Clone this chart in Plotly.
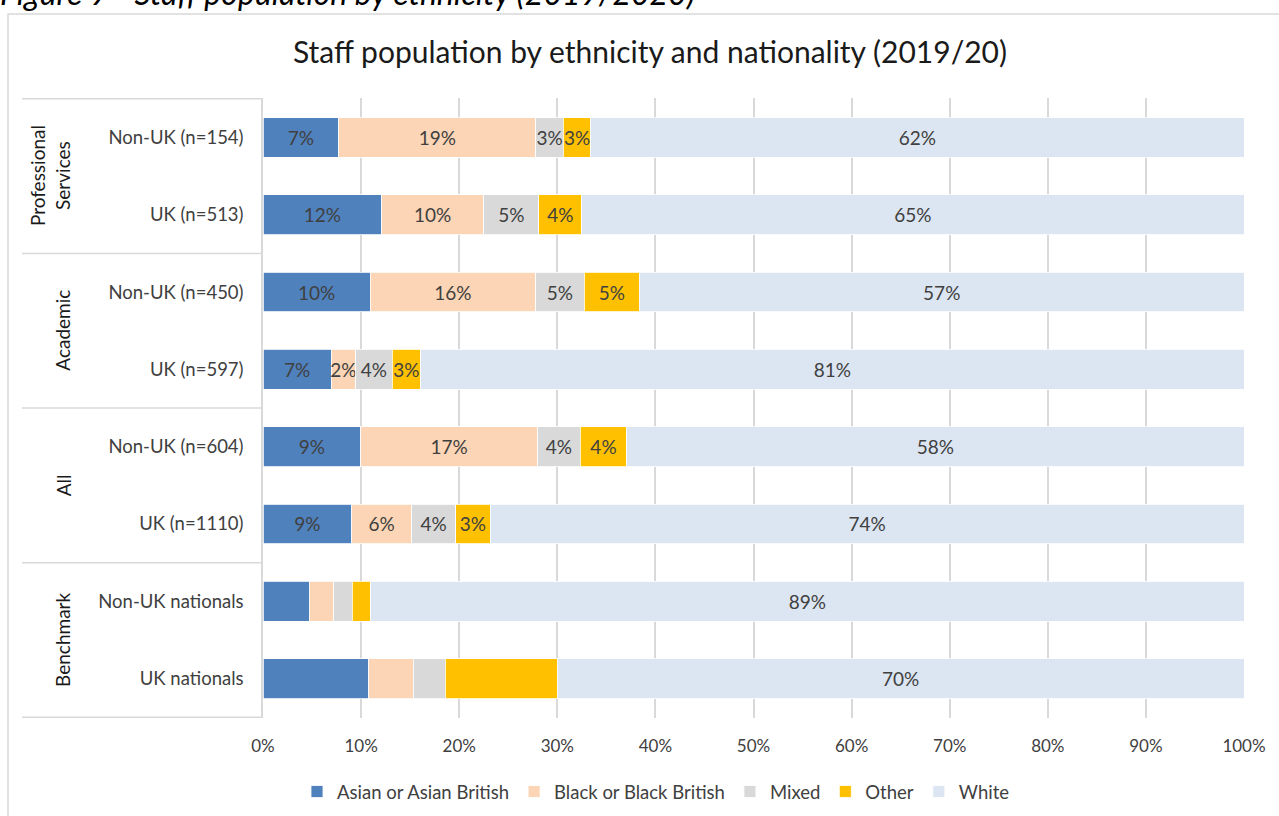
import plotly.graph_objects as go

# Row categories, top to bottom
rows = ["Non-UK (n=154)", "UK (n=513)", "Non-UK (n=450)", "UK (n=597)",
        "Non-UK (n=604)", "UK (n=1110)", "Non-UK nationals", "UK nationals"]
groups = ["Professional<br>Services", "Academic", "All", "Benchmark"]
group_rows = [(0, 1), (2, 3), (4, 5), (6, 7)]

# Shares by ethnicity (%), per row; each row is normalised to 100%
asian = [7.2, 11.6, 10.1, 6.7, 9.2, 8.7, 4.7, 10.8]
black = [18.7, 10.0, 15.6, 2.4, 16.6, 5.9, 2.5, 4.5]
mixed = [2.6, 5.4, 4.6, 3.6, 4.0, 4.3, 1.9, 3.3]
other = [2.6, 4.2, 5.2, 2.8, 4.4, 3.4, 1.9, 11.4]
white = [62.0, 64.8, 57.0, 81.0, 58.0, 74.0, 89.0, 70.0]

# Benchmark rows only carry a label on the White segment
labelled = [True, True, True, True, True, True, False, False]

series = [
    ("Asian or Asian British", asian, "#4f81bd", False),
    ("Black or Black British", black, "#fbd5b5", False),
    ("Mixed", mixed, "#d9d9d9", False),
    ("Other", other, "#ffc000", False),
    ("White", white, "#dce6f2", True),
]

FONT = "Lato"
TXT = "#404040"
GRID = "#d9d9d9"

fig = go.Figure()
for name, vals, color, always in series:
    text = [f"{v:.0f}%" if (always or lab) else "" for v, lab in zip(vals, labelled)]
    fig.add_trace(go.Bar(
        name=name, y=rows, x=vals, orientation="h",
        marker=dict(color=color, line=dict(color="white", width=0.8)),
        text=text, textposition="inside", insidetextanchor="middle",
        textangle=0, textfont=dict(family=FONT, size=19, color=TXT),
        hoverinfo="skip",
    ))

# Group labels and dividers for the two-level category axis
L_PX, W_PX, T_PX, H_PX = 263, 981, 98, 620


def px_x(px):
    return (px - L_PX) / W_PX


def px_y(py):
    return (T_PX + H_PX - py) / H_PX


shapes = []
for b in [-0.5, 1.5, 3.5, 5.5, 7.5]:
    shapes.append(dict(type="line", xref="paper", yref="y", x0=px_x(22), x1=0,
                       y0=b, y1=b, line=dict(color=GRID, width=1.5), layer="below"))
# chart border
shapes.append(dict(type="rect", xref="paper", yref="paper",
                   x0=px_x(8), x1=px_x(1300), y0=px_y(840), y1=px_y(14),
                   line=dict(color=GRID, width=1.5), layer="below"))

group_x = [50, 63, 63, 63]
annotations = []
for g, (a, b), gx in zip(groups, group_rows, group_x):
    annotations.append(dict(text=g, xref="paper", yref="y",
                            x=px_x(gx), y=(a + b) / 2,
                            textangle=-90, showarrow=False,
                            xanchor="center", yanchor="middle",
                            font=dict(family=FONT, size=19, color="#1a1a1a")))
# figure caption above the chart
annotations.append(dict(text="<i>Figure 9 - Staff population by ethnicity (2019/2020)</i>",
                        xref="paper", yref="paper",
                        x=px_x(-2), y=px_y(14),
                        xanchor="left", yanchor="bottom", showarrow=False,
                        font=dict(family=FONT, size=32, color="#000000")))

fig.update_layout(
    width=1279, height=816,
    margin=dict(l=263, r=35, t=98, b=98, autoexpand=False),
    paper_bgcolor="white", plot_bgcolor="white",
    barmode="stack", barnorm="percent", bargap=0.485,
    title=dict(text="Staff population by ethnicity and nationality (2019/20)",
               x=650 / 1279, xref="container", xanchor="center",
               y=1 - 52 / 816, yref="container", yanchor="middle",
               font=dict(family=FONT, size=30, color="#1a1a1a")),
    xaxis=dict(range=[0, 100], dtick=10, ticksuffix="%", showgrid=True,
               gridcolor=GRID, gridwidth=1.5, zeroline=False, showline=False,
               tickfont=dict(family=FONT, size=17, color=TXT), ticks="",
               ticklabelstandoff=16),
    yaxis=dict(autorange="reversed", showgrid=False, showline=True,
               linecolor=GRID, linewidth=1.5, ticks="", ticklabelstandoff=14,
               tickfont=dict(family=FONT, size=18.5, color=TXT)),
    legend=dict(orientation="h", x=px_x(656), xanchor="center",
                y=px_y(792), yanchor="middle",
                font=dict(family=FONT, size=18.5, color=TXT),
                traceorder="normal", itemwidth=30),
    uniformtext=dict(mode="show", minsize=19),
    shapes=shapes, annotations=annotations,
)

fig.write_html("out.html")
